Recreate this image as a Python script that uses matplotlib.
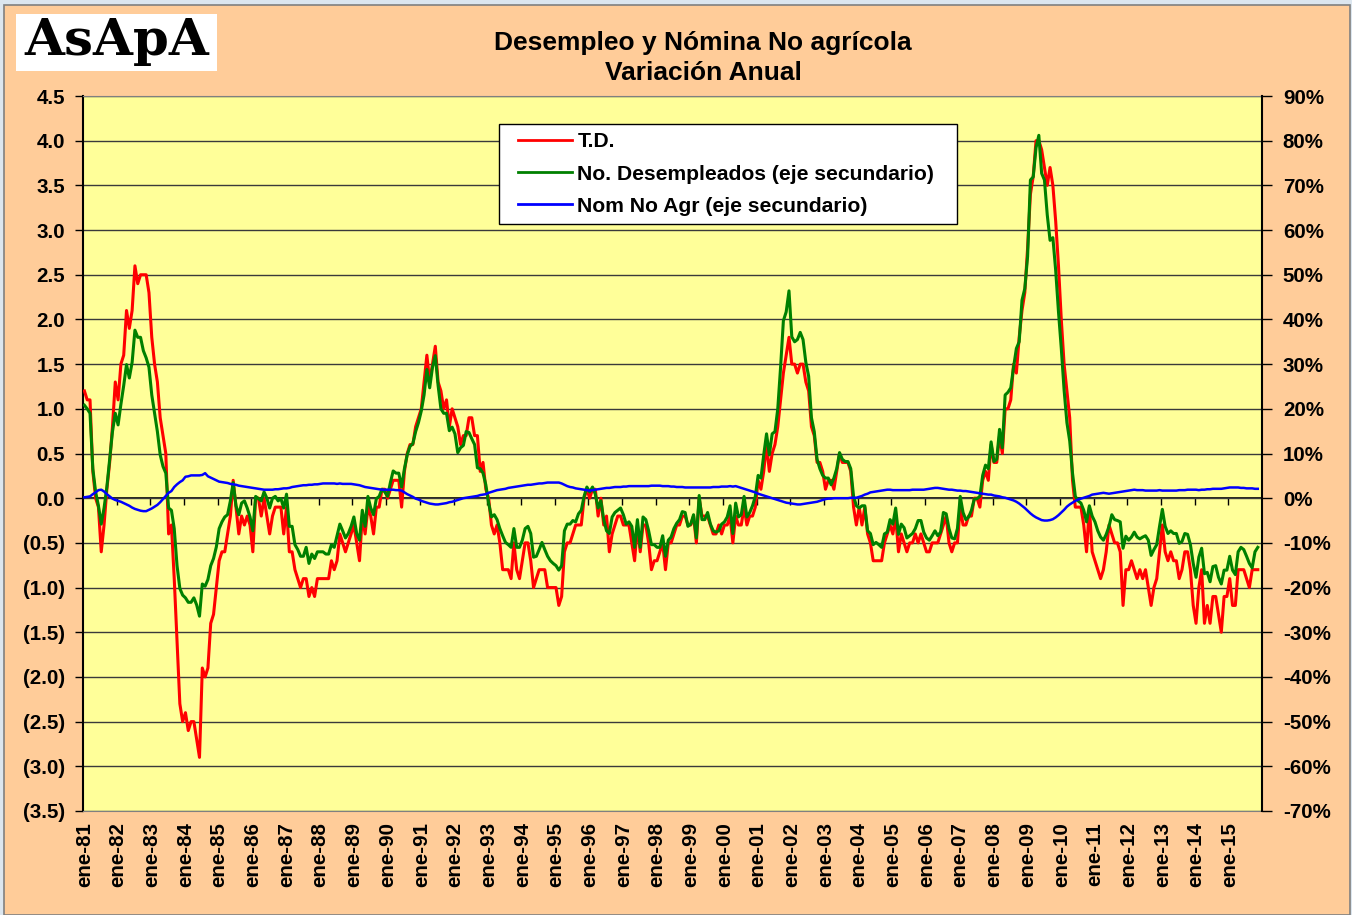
import numpy as np
import matplotlib
matplotlib.use('Agg')
import matplotlib.pyplot as plt
from matplotlib.patches import Rectangle
from matplotlib.lines import Line2D
from matplotlib.ticker import FuncFormatter, MultipleLocator

plt.rcParams['font.family'] = ['Liberation Sans', 'DejaVu Sans']

# T.D.: variación anual de la tasa de desempleo (puntos), ene-81 .. nov-15
td = [
    1.2, 1.1, 1.1, 0.3, 0.0, -0.1, -0.6, -0.3, 0.1, 0.4, 0.8, 1.3,          # 1981
    1.1, 1.5, 1.6, 2.1, 1.9, 2.1, 2.6, 2.4, 2.5, 2.5, 2.5, 2.3,             # 1982
    1.8, 1.5, 1.3, 0.9, 0.7, 0.5, -0.4, -0.3, -0.9, -1.6, -2.3, -2.5,       # 1983
    -2.4, -2.6, -2.5, -2.5, -2.7, -2.9, -1.9, -2.0, -1.9, -1.4, -1.3, -1.0, # 1984
    -0.7, -0.6, -0.6, -0.4, -0.2, 0.2, -0.1, -0.4, -0.2, -0.3, -0.2, -0.3,  # 1985
    -0.6, 0.0, 0.0, -0.2, 0.0, -0.2, -0.4, -0.2, -0.1, -0.1, -0.1, -0.4,    # 1986
    -0.1, -0.6, -0.6, -0.8, -0.9, -1.0, -0.9, -0.9, -1.1, -1.0, -1.1, -0.9, # 1987
    -0.9, -0.9, -0.9, -0.9, -0.7, -0.8, -0.7, -0.4, -0.5, -0.6, -0.5, -0.4, # 1988
    -0.3, -0.5, -0.7, -0.2, -0.4, -0.1, -0.2, -0.4, -0.1, -0.1, 0.1, 0.1,   # 1989
    0.0, 0.1, 0.2, 0.2, 0.2, -0.1, 0.3, 0.5, 0.6, 0.6, 0.8, 0.9,            # 1990
    1.0, 1.3, 1.6, 1.3, 1.5, 1.7, 1.3, 1.2, 1.0, 1.1, 0.8, 1.0,             # 1991
    0.9, 0.8, 0.6, 0.7, 0.7, 0.9, 0.9, 0.7, 0.7, 0.3, 0.4, 0.1,             # 1992
    0.0, -0.3, -0.4, -0.3, -0.5, -0.8, -0.8, -0.8, -0.9, -0.5, -0.8, -0.9,  # 1993
    -0.7, -0.5, -0.5, -0.7, -1.0, -0.9, -0.8, -0.8, -0.8, -1.0, -1.0, -1.0, # 1994
    -1.0, -1.2, -1.1, -0.6, -0.5, -0.5, -0.4, -0.3, -0.3, -0.3, 0.0, 0.1,   # 1995
    0.0, 0.1, 0.1, -0.2, 0.0, -0.3, -0.2, -0.6, -0.4, -0.3, -0.2, -0.2,     # 1996
    -0.3, -0.3, -0.3, -0.5, -0.7, -0.3, -0.6, -0.3, -0.3, -0.5, -0.8, -0.7, # 1997
    -0.7, -0.6, -0.5, -0.8, -0.5, -0.5, -0.4, -0.3, -0.3, -0.2, -0.2, -0.3, # 1998
    -0.3, -0.2, -0.5, 0.0, -0.2, -0.2, -0.2, -0.3, -0.4, -0.4, -0.3, -0.4,  # 1999
    -0.3, -0.3, -0.2, -0.5, -0.2, -0.3, -0.3, -0.1, -0.3, -0.2, -0.2, -0.1, # 2000
    0.2, 0.1, 0.3, 0.6, 0.3, 0.5, 0.6, 0.8, 1.1, 1.4, 1.6, 1.8,             # 2001
    1.5, 1.5, 1.4, 1.5, 1.5, 1.3, 1.2, 0.8, 0.7, 0.4, 0.4, 0.3,             # 2002
    0.1, 0.2, 0.2, 0.1, 0.3, 0.5, 0.4, 0.4, 0.4, 0.3, -0.1, -0.3,           # 2003
    -0.1, -0.3, -0.1, -0.4, -0.5, -0.7, -0.7, -0.7, -0.7, -0.5, -0.4, -0.3, # 2004
    -0.4, -0.2, -0.6, -0.4, -0.5, -0.6, -0.5, -0.5, -0.4, -0.5, -0.4, -0.5, # 2005
    -0.6, -0.6, -0.5, -0.5, -0.5, -0.4, -0.3, -0.2, -0.5, -0.6, -0.5, -0.5, # 2006
    -0.1, -0.3, -0.3, -0.2, -0.2, 0.0, 0.0, -0.1, 0.2, 0.3, 0.2, 0.6,       # 2007
    0.4, 0.4, 0.7, 0.5, 1.0, 1.0, 1.1, 1.5, 1.4, 1.8, 2.1, 2.3,             # 2008
    2.8, 3.4, 3.6, 4.0, 4.0, 3.9, 3.7, 3.5, 3.7, 3.5, 3.1, 2.6,             # 2009
    2.0, 1.5, 1.2, 0.9, 0.2, -0.1, -0.1, -0.1, -0.3, -0.6, -0.1, -0.6,      # 2010
    -0.7, -0.8, -0.9, -0.8, -0.6, -0.3, -0.4, -0.5, -0.5, -0.6, -1.2, -0.8, # 2011
    -0.8, -0.7, -0.8, -0.9, -0.8, -0.9, -0.8, -1.0, -1.2, -1.0, -0.9, -0.6, # 2012
    -0.3, -0.6, -0.7, -0.6, -0.7, -0.7, -0.9, -0.8, -0.6, -0.6, -0.8, -1.2, # 2013
    -1.4, -1.0, -0.8, -1.4, -1.2, -1.4, -1.1, -1.1, -1.3, -1.5, -1.1, -1.1, # 2014
    -0.9, -1.2, -1.2, -0.8, -0.8, -0.8, -0.9, -1.0, -0.8, -0.8, -0.8,       # 2015
]

# No. Desempleados: variación anual (%), eje secundario
desemp = [
    20.8, 20.0, 19.0, 6.6, 1.4, -1.7, -5.8, -2.2, 2.5, 8.7, 14.9, 19.0,                 # 1981
    16.4, 21.0, 25.2, 29.9, 26.9, 30.4, 37.6, 36.0, 36.0, 33.0, 31.4, 29.3,             # 1982
    23.1, 19.0, 14.9, 9.7, 7.1, 5.6, -2.2, -2.7, -6.8, -15.1, -20.2, -21.7,             # 1983
    -22.3, -23.3, -23.3, -22.3, -23.9, -26.4, -19.2, -19.7, -18.2, -15.1, -13.5, -10.9, # 1984
    -6.8, -5.3, -4.2, -3.7, -0.6, 3.5, -1.7, -3.7, -1.1, -0.6, -2.2, -4.2,              # 1985
    -7.3, 0.4, -0.1, -0.6, 1.4, 0.0, -2.2, 0.0, 0.4, -0.6, -0.1, -2.2,                  # 1986
    0.9, -6.3, -6.3, -10.4, -11.5, -13.0, -13.0, -11.0, -14.6, -12.5, -13.5, -12.0,     # 1987
    -12.0, -12.0, -12.5, -12.5, -10.4, -11.0, -8.4, -5.8, -7.3, -8.9, -7.9, -6.3,       # 1988
    -4.2, -7.9, -9.4, -2.7, -6.3, 0.4, -2.2, -3.7, -0.1, 0.4, 2.0, 1.4,                 # 1989
    0.4, 3.5, 6.1, 5.6, 5.6, 2.5, 6.6, 9.7, 11.6, 12.2, 14.9, 16.9,                     # 1990
    19.5, 23.1, 28.8, 24.7, 29.3, 31.9, 25.2, 20.0, 19.0, 19.0, 15.1, 15.9,             # 1991
    14.4, 10.2, 11.3, 11.8, 14.9, 14.7, 13.3, 12.0, 6.8, 6.6, 5.6, 3.0,                 # 1992
    -1.1, -4.2, -3.7, -4.8, -6.8, -8.4, -9.9, -10.4, -11.0, -6.8, -11.0, -11.0,         # 1993
    -9.4, -6.8, -6.3, -7.9, -13.2, -13.0, -11.5, -9.9, -11.5, -13.0, -14.0, -14.6,      # 1994
    -15.1, -16.1, -15.1, -7.3, -5.8, -5.8, -5.0, -5.3, -3.5, -2.7, 0.4, 2.5,            # 1995
    1.4, 2.5, 0.9, -2.2, -0.6, -4.8, -7.3, -7.9, -4.2, -3.2, -2.7, -2.2,                # 1996
    -3.7, -5.8, -5.3, -6.3, -11.0, -4.8, -11.0, -4.2, -4.8, -7.3, -10.4, -10.4,         # 1997
    -11.0, -11.0, -8.4, -13.0, -9.4, -8.7, -6.8, -5.6, -4.8, -3.0, -3.2, -6.3,          # 1998
    -5.8, -3.7, -8.9, 0.6, -4.8, -4.8, -3.2, -5.8, -7.3, -7.6, -7.3, -5.8,              # 1999
    -5.3, -4.2, -1.7, -7.9, -1.1, -4.2, -3.7, 0.4, -4.2, -3.2, -1.7, 0.4,               # 2000
    5.1, 4.5, 9.7, 14.4, 9.7, 14.4, 14.9, 20.0, 29.3, 39.7, 41.7, 46.4,                 # 2001
    36.1, 35.0, 35.5, 37.1, 35.5, 30.4, 27.3, 18.0, 14.9, 8.7, 6.6, 5.1,                # 2002
    4.5, 4.5, 3.0, 4.5, 6.6, 10.2, 8.7, 8.2, 8.2, 6.6, 0.4, -1.7,                       # 2003
    -2.2, -1.7, -1.7, -7.3, -7.9, -10.4, -9.9, -10.4, -11.0, -8.0, -7.6, -4.8,          # 2004
    -5.8, -2.2, -8.1, -5.8, -6.6, -8.9, -8.4, -7.9, -6.8, -5.0, -5.0, -7.6,             # 2005
    -8.9, -9.4, -8.4, -7.3, -8.4, -7.6, -3.2, -3.5, -6.8, -8.9, -9.1, -6.8,             # 2006
    0.4, -3.2, -4.8, -4.2, -2.7, -0.2, -0.1, 0.4, 5.1, 7.4, 6.6, 12.6,                  # 2007
    8.2, 8.7, 15.4, 11.3, 23.1, 23.7, 24.7, 29.3, 33.5, 35.0, 44.3, 46.9,               # 2008
    54.1, 71.2, 71.9, 78.4, 81.2, 72.7, 71.2, 63.4, 57.7, 58.3, 51.0, 41.7,             # 2009
    33.5, 24.2, 16.9, 12.8, 5.6, 0.4, -0.6, -1.1, -2.7, -5.3, -1.7, -4.0,               # 2010
    -5.3, -7.3, -8.7, -9.4, -8.1, -6.3, -3.7, -4.8, -5.0, -5.3, -11.2, -8.5,            # 2011
    -9.4, -8.7, -7.6, -8.7, -9.1, -8.7, -8.4, -9.4, -12.8, -11.5, -10.4, -6.3,          # 2012
    -2.5, -6.3, -7.9, -7.3, -7.9, -7.9, -10.1, -9.7, -7.9, -8.1, -10.4, -14.6,          # 2013
    -17.7, -13.2, -11.2, -16.9, -16.6, -18.7, -15.3, -15.1, -17.7, -19.2, -16.1, -16.1, # 2014
    -13.0, -16.1, -17.1, -12.0, -11.0, -11.5, -13.0, -14.6, -15.6, -12.0, -11.0,        # 2015
]

# Nómina no agrícola: variación anual (%), eje secundario
nomina = [
    0.2, 0.3, 0.4, 0.9, 1.3, 1.8, 1.9, 1.5, 0.9, 0.4, -0.1, -0.4,           # 1981
    -0.6, -0.8, -1.1, -1.4, -1.7, -2.1, -2.4, -2.6, -2.8, -2.9, -2.9, -2.6, # 1982
    -2.3, -1.9, -1.5, -0.9, -0.2, 0.5, 1.2, 1.6, 2.5, 3.1, 3.6, 4.0,        # 1983
    4.8, 4.9, 5.1, 5.1, 5.1, 5.1, 5.2, 5.6, 4.9, 4.6, 4.3, 4.0,             # 1984
    3.7, 3.6, 3.5, 3.4, 3.2, 3.1, 3.0, 2.8, 2.7, 2.6, 2.5, 2.4,             # 1985
    2.3, 2.2, 2.1, 2.0, 1.9, 1.9, 1.9, 1.9, 2.0, 2.0, 2.1, 2.2,             # 1986
    2.2, 2.3, 2.5, 2.6, 2.7, 2.8, 2.9, 2.9, 3.0, 3.0, 3.1, 3.1,             # 1987
    3.2, 3.3, 3.3, 3.3, 3.3, 3.3, 3.2, 3.3, 3.2, 3.2, 3.2, 3.2,             # 1988
    3.1, 3.0, 2.9, 2.7, 2.5, 2.4, 2.3, 2.2, 2.1, 2.0, 1.9, 1.9,             # 1989
    1.9, 1.9, 1.9, 1.8, 1.8, 1.7, 1.3, 0.9, 0.6, 0.3, -0.1, -0.3,           # 1990
    -0.6, -0.8, -1.0, -1.2, -1.3, -1.4, -1.4, -1.3, -1.2, -1.1, -0.9, -0.8, # 1991
    -0.6, -0.4, -0.2, 0.0, 0.1, 0.2, 0.3, 0.4, 0.5, 0.7, 0.8, 0.9,          # 1992
    1.2, 1.4, 1.6, 1.8, 1.9, 2.0, 2.1, 2.3, 2.4, 2.5, 2.6, 2.7,             # 1993
    2.8, 2.9, 3.0, 3.0, 3.1, 3.2, 3.3, 3.3, 3.4, 3.5, 3.5, 3.5,             # 1994
    3.5, 3.5, 3.3, 3.0, 2.7, 2.5, 2.4, 2.2, 2.1, 2.0, 1.9, 1.8,             # 1995
    1.7, 1.8, 1.9, 2.0, 2.1, 2.2, 2.3, 2.3, 2.4, 2.5, 2.5, 2.5,             # 1996
    2.6, 2.6, 2.7, 2.7, 2.7, 2.7, 2.7, 2.7, 2.7, 2.7, 2.8, 2.8,             # 1997
    2.8, 2.8, 2.7, 2.7, 2.7, 2.6, 2.6, 2.5, 2.5, 2.5, 2.4, 2.4,             # 1998
    2.4, 2.4, 2.4, 2.4, 2.4, 2.4, 2.4, 2.4, 2.5, 2.5, 2.5, 2.6,             # 1999
    2.6, 2.6, 2.7, 2.6, 2.7, 2.5, 2.3, 2.1, 1.9, 1.7, 1.5, 1.3,             # 2000
    1.0, 0.8, 0.6, 0.4, 0.2, 0.0, -0.2, -0.4, -0.6, -0.8, -1.0, -1.1,       # 2001
    -1.2, -1.3, -1.4, -1.4, -1.3, -1.2, -1.1, -1.0, -0.9, -0.8, -0.6, -0.4, # 2002
    -0.2, -0.1, -0.1, 0.0, 0.0, 0.0, 0.0, 0.0, 0.0, 0.1, 0.1, 0.1,          # 2003
    0.3, 0.5, 0.8, 1.0, 1.3, 1.4, 1.5, 1.6, 1.7, 1.8, 1.9, 1.9,             # 2004
    1.8, 1.8, 1.8, 1.8, 1.8, 1.8, 1.8, 1.9, 1.9, 1.9, 1.9, 1.9,             # 2005
    2.0, 2.1, 2.2, 2.3, 2.3, 2.2, 2.1, 2.0, 1.9, 1.9, 1.8, 1.7,             # 2006
    1.7, 1.6, 1.6, 1.5, 1.4, 1.3, 1.2, 1.1, 1.0, 0.9, 0.8, 0.8,             # 2007
    0.6, 0.5, 0.4, 0.2, 0.1, -0.1, -0.3, -0.5, -0.8, -1.2, -1.7, -2.2,      # 2008
    -2.8, -3.4, -3.9, -4.3, -4.6, -4.9, -5.0, -5.0, -4.9, -4.7, -4.3, -3.8, # 2009
    -3.2, -2.6, -1.9, -1.4, -1.0, -0.6, -0.3, -0.1, 0.1, 0.3, 0.5, 0.8,     # 2010
    0.9, 1.0, 1.1, 1.2, 1.1, 1.0, 1.1, 1.2, 1.3, 1.4, 1.5, 1.6,             # 2011
    1.7, 1.8, 1.9, 1.8, 1.8, 1.8, 1.7, 1.7, 1.7, 1.7, 1.7, 1.8,             # 2012
    1.7, 1.7, 1.7, 1.7, 1.7, 1.7, 1.8, 1.8, 1.8, 1.9, 1.9, 1.9,             # 2013
    1.9, 1.8, 1.9, 1.9, 2.0, 2.0, 2.1, 2.1, 2.1, 2.1, 2.2, 2.3,             # 2014
    2.4, 2.4, 2.4, 2.4, 2.3, 2.3, 2.2, 2.2, 2.2, 2.1, 2.1,                  # 2015
]

etiquetas = ['ene-81', 'ene-82', 'ene-83', 'ene-84', 'ene-85', 'ene-86', 'ene-87',
             'ene-88', 'ene-89', 'ene-90', 'ene-91', 'ene-92', 'ene-93', 'ene-94',
             'ene-95', 'ene-96', 'ene-97', 'ene-98', 'ene-99', 'ene-00', 'ene-01',
             'ene-02', 'ene-03', 'ene-04', 'ene-05', 'ene-06', 'ene-07', 'ene-08',
             'ene-09', 'ene-10', 'ene-11', 'ene-12', 'ene-13', 'ene-14', 'ene-15']

n_cat = 12 * len(etiquetas)          # eje de categorías ene-81 .. dic-15
x = np.arange(len(td))

W, H = 1352, 915
fig = plt.figure(figsize=(W / 100, H / 100), dpi=100)
fig.patch.set_facecolor('#DCE6EF')
fig.add_artist(Rectangle((4 / W, 0), 1346 / W, 910 / H, transform=fig.transFigure,
                         facecolor='#FFCC99', edgecolor='#808080', lw=1.2, zorder=-10))

# logo
fig.add_artist(Rectangle((16 / W, 1 - 71 / H), 201 / W, 57 / H, transform=fig.transFigure,
                         facecolor='white', edgecolor='none', zorder=-5))
fig.text(117 / W, 1 - 42 / H, 'AsApA', ha='center', va='center', fontsize=37,
         fontweight='bold', family='DejaVu Serif')

# titulo
fig.text(703 / W, 1 - 43 / H, 'Desempleo y Nómina No agrícola', ha='center', va='center',
         fontsize=19, fontweight='bold')
fig.text(703 / W, 1 - 73 / H, 'Variación Anual', ha='center', va='center',
         fontsize=19, fontweight='bold')

ax = fig.add_axes([83 / W, 1 - 811 / H, (1262 - 83) / W, (811 - 96) / H])
ax.set_facecolor('#FFFF99')
ax2 = ax.twinx()

ax.plot(x, td, color='#FF0000', lw=2.2, zorder=3)
ax2.plot(x, desemp, color='#008000', lw=2.2)
ax2.plot(x, nomina, color='#0000FF', lw=1.8)

ax.set_xlim(-0.5, n_cat - 0.5)
ax.set_ylim(-3.5, 4.5)
ax2.set_ylim(-70, 90)
ax.yaxis.set_major_locator(MultipleLocator(0.5))
ax2.yaxis.set_major_locator(MultipleLocator(10))
ax.yaxis.set_major_formatter(FuncFormatter(
    lambda v, p: '(%.1f)' % -v if v < -1e-9 else '%.1f' % abs(v)))
ax2.yaxis.set_major_formatter(FuncFormatter(lambda v, p: '%d%%' % round(v)))

ax.grid(axis='y', color='#3a3a3a', lw=1)
ax.set_axisbelow(True)

ax.set_xticks(np.arange(0, n_cat, 12))
ax.set_xticklabels(etiquetas, rotation=90, fontsize=14.8, fontweight='bold')
ax.tick_params(axis='x', length=0, pad=8)
ax.tick_params(axis='y', direction='out', length=6, width=1, pad=7,
               labelsize=14.8)
ax2.tick_params(axis='y', direction='out', length=7, width=1, pad=8,
                labelsize=14.8)
for lab in ax.get_yticklabels() + ax2.get_yticklabels():
    lab.set_fontweight('bold')

# eje de categorías cruzando en 0, con marcas cada año
eje0 = ax.secondary_xaxis(3.5 / 8)
eje0.set_xticks(np.arange(12, n_cat, 12) - 0.5)
eje0.tick_params(axis='x', direction='out', length=5, width=1, labelbottom=False)
eje0.spines['bottom'].set_color('black')
eje0.spines['bottom'].set_linewidth(1.2)

for s in ['top', 'bottom']:
    ax.spines[s].set_color('#808080')
    ax2.spines[s].set_visible(False)
ax.spines['left'].set_linewidth(1.5)
ax.spines['right'].set_visible(False)
ax2.spines['left'].set_visible(False)
ax2.spines['right'].set_linewidth(1.5)

# leyenda: recuadro blanco propio y entradas sin marco
fig.add_artist(Rectangle((499 / W, 1 - 224 / H), 458 / W, 100 / H, transform=fig.transFigure,
                         facecolor='white', edgecolor='black', lw=1, zorder=4))
handles = [Line2D([], [], color='#FF0000', lw=2),
           Line2D([], [], color='#008000', lw=2),
           Line2D([], [], color='#0000FF', lw=2)]
leg = fig.legend(handles, ['T.D.', 'No. Desempleados (eje secundario)',
                           'Nom No Agr (eje secundario)'],
                 loc='center left', bbox_to_anchor=(512 / W, 1 - 174 / H),
                 prop={'size': 15.2, 'weight': 'bold'}, frameon=False,
                 handlelength=2.55, handletextpad=0.25,
                 labelspacing=0.62, borderpad=0.3, borderaxespad=0)
leg.set_zorder(5)

fig.savefig('out.png', dpi=100, facecolor=fig.get_facecolor())
